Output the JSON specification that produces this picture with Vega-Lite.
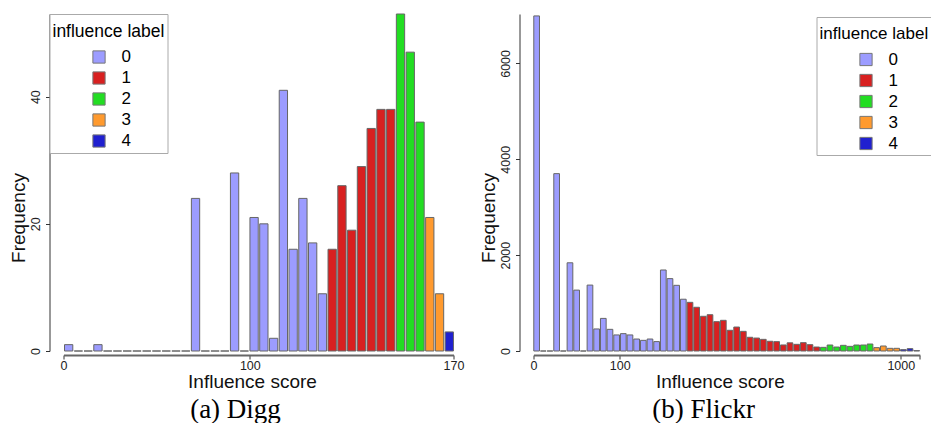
{
  "$schema": "https://vega.github.io/schema/vega-lite/v6.json",
  "padding": {"left": 9.5, "top": 13, "right": 0, "bottom": 0},
  "bounds": "flush",
  "spacing": 80,
  "background": "white",
  "config": {
    "view": {"stroke": null},
    "axis": {
      "grid": false,
      "labelFont": "Liberation Sans",
      "titleFont": "Liberation Sans",
      "labelFontSize": 12.5,
      "titleFontSize": 19,
      "titleFontWeight": "normal",
      "labelColor": "#222",
      "titleColor": "#111",
      "tickColor": "#333",
      "domainColor": "#333"
    },
    "legend": {
      "orient": "none",
      "titleFont": "Liberation Sans",
      "titleFontSize": 17.5,
      "titleFontWeight": "normal",
      "titleColor": "#000",
      "titleBaseline": "line-top",
      "titleLineHeight": 29,
      "labelFont": "Liberation Sans",
      "labelFontSize": 17,
      "labelColor": "#000",
      "symbolType": "square",
      "symbolSize": 150,
      "symbolStrokeColor": "#777",
      "symbolStrokeWidth": 1,
      "symbolOffset": 38,
      "labelOffset": 14,
      "rowPadding": 3,
      "padding": 3,
      "titlePadding": 14,
      "strokeColor": "#aaa",
      "fillColor": "white"
    },
    "title": {"font": "Liberation Serif", "fontSize": 27, "fontWeight": "normal", "color": "#000", "orient": "bottom", "anchor": "middle"}
  },
  "datasets": {
    "digg": [
      {"i": 0, "f": 1, "l": "0"}, {"i": 1, "f": 0, "l": "0"}, {"i": 2, "f": 0, "l": "0"}, {"i": 3, "f": 1, "l": "0"},
      {"i": 4, "f": 0, "l": "0"}, {"i": 5, "f": 0, "l": "0"}, {"i": 6, "f": 0, "l": "0"}, {"i": 7, "f": 0, "l": "0"},
      {"i": 8, "f": 0, "l": "0"}, {"i": 9, "f": 0, "l": "0"}, {"i": 10, "f": 0, "l": "0"}, {"i": 11, "f": 0, "l": "0"},
      {"i": 12, "f": 0, "l": "0"}, {"i": 13, "f": 24, "l": "0"}, {"i": 14, "f": 0, "l": "0"}, {"i": 15, "f": 0, "l": "0"},
      {"i": 16, "f": 0, "l": "0"}, {"i": 17, "f": 28, "l": "0"}, {"i": 18, "f": 0, "l": "0"}, {"i": 19, "f": 21, "l": "0"},
      {"i": 20, "f": 20, "l": "0"}, {"i": 21, "f": 2, "l": "0"}, {"i": 22, "f": 41, "l": "0"}, {"i": 23, "f": 16, "l": "0"},
      {"i": 24, "f": 24, "l": "0"}, {"i": 25, "f": 17, "l": "0"}, {"i": 26, "f": 9, "l": "0"}, {"i": 27, "f": 16, "l": "1"},
      {"i": 28, "f": 26, "l": "1"}, {"i": 29, "f": 19, "l": "1"}, {"i": 30, "f": 29, "l": "1"}, {"i": 31, "f": 35, "l": "1"},
      {"i": 32, "f": 38, "l": "1"}, {"i": 33, "f": 38, "l": "1"}, {"i": 34, "f": 53, "l": "2"}, {"i": 35, "f": 47, "l": "2"},
      {"i": 36, "f": 36, "l": "2"}, {"i": 37, "f": 21, "l": "3"}, {"i": 38, "f": 9, "l": "3"}, {"i": 39, "f": 3, "l": "4"}
    ],
    "flickr": [
      {"i": 0, "f": 6990, "l": "0"}, {"i": 1, "f": 0, "l": "0"}, {"i": 2, "f": 0, "l": "0"}, {"i": 3, "f": 3700, "l": "0"},
      {"i": 4, "f": 0, "l": "0"}, {"i": 5, "f": 1840, "l": "0"}, {"i": 6, "f": 1270, "l": "0"}, {"i": 7, "f": 0, "l": "0"},
      {"i": 8, "f": 1375, "l": "0"}, {"i": 9, "f": 460, "l": "0"}, {"i": 10, "f": 680, "l": "0"}, {"i": 11, "f": 452, "l": "0"},
      {"i": 12, "f": 335, "l": "0"}, {"i": 13, "f": 362, "l": "0"}, {"i": 14, "f": 335, "l": "0"}, {"i": 15, "f": 250, "l": "0"},
      {"i": 16, "f": 222, "l": "0"}, {"i": 17, "f": 250, "l": "0"}, {"i": 18, "f": 196, "l": "0"}, {"i": 19, "f": 1690, "l": "0"},
      {"i": 20, "f": 1510, "l": "0"}, {"i": 21, "f": 1370, "l": "0"}, {"i": 22, "f": 1080, "l": "0"}, {"i": 23, "f": 1015, "l": "1"},
      {"i": 24, "f": 912, "l": "1"}, {"i": 25, "f": 724, "l": "1"}, {"i": 26, "f": 757, "l": "1"}, {"i": 27, "f": 612, "l": "1"},
      {"i": 28, "f": 640, "l": "1"}, {"i": 29, "f": 432, "l": "1"}, {"i": 30, "f": 500, "l": "1"}, {"i": 31, "f": 410, "l": "1"},
      {"i": 32, "f": 286, "l": "1"}, {"i": 33, "f": 270, "l": "1"}, {"i": 34, "f": 243, "l": "1"}, {"i": 35, "f": 203, "l": "1"},
      {"i": 36, "f": 195, "l": "1"}, {"i": 37, "f": 126, "l": "1"}, {"i": 38, "f": 170, "l": "1"}, {"i": 39, "f": 139, "l": "1"},
      {"i": 40, "f": 174, "l": "1"}, {"i": 41, "f": 132, "l": "1"}, {"i": 42, "f": 83, "l": "1"}, {"i": 43, "f": 76, "l": "2"},
      {"i": 44, "f": 125, "l": "2"}, {"i": 45, "f": 83, "l": "2"}, {"i": 46, "f": 118, "l": "2"}, {"i": 47, "f": 97, "l": "2"},
      {"i": 48, "f": 125, "l": "2"}, {"i": 49, "f": 125, "l": "2"}, {"i": 50, "f": 146, "l": "2"}, {"i": 51, "f": 70, "l": "3"},
      {"i": 52, "f": 104, "l": "3"}, {"i": 53, "f": 56, "l": "3"}, {"i": 54, "f": 56, "l": "3"}, {"i": 55, "f": 28, "l": "4"},
      {"i": 56, "f": 49, "l": "4"}, {"i": 57, "f": 8, "l": "4"}
    ]
  },
  "resolve": {"scale": {"color": "independent", "x": "independent", "y": "independent"}, "legend": {"color": "independent"}},
  "hconcat": [
    {
      "width": 390,
      "height": 337,
      "data": {"name": "digg"},
      "title": {"text": "(a) Digg", "dx": -23, "offset": 5},
      "mark": {"type": "bar", "width": 8.3, "stroke": "#666666", "strokeWidth": 1},
      "encoding": {
        "x": {
          "field": "i", "type": "quantitative",
          "scale": {"domain": [-0.528, 39.43], "nice": false, "zero": false, "padding": 0},
          "axis": {
            "title": "Influence score", "titleX": 188.5, "titlePadding": 1,
            "values": [-0.528, 18.56, 39.43],
            "labelExpr": "datum.value < 0 ? '0' : datum.value < 30 ? '100' : '170'",
            "offset": 4, "domainWidth": 2, "domainColor": "#666", "tickSize": 4, "labelPadding": 0,
            "labelFlush": false, "labelOverlap": false
          }
        },
        "y": {
          "field": "f", "type": "quantitative",
          "scale": {"domain": [0, 53], "nice": false},
          "axis": {
            "title": "Frequency", "titleY": 203.5, "titlePadding": 1, "format": "d",
            "values": [0, 20, 40], "offset": 14, "tickSize": 4,
            "labelAngle": -90, "labelAlign": "center", "labelBaseline": "bottom", "labelPadding": 3
          }
        },
        "color": {
          "field": "l", "type": "nominal",
          "scale": {"domain": ["0", "1", "2", "3", "4"], "range": ["#9c9cff", "#d82020", "#22dd22", "#ff9a2e", "#2020d0"]},
          "legend": {"title": "influence label", "legendX": -14, "legendY": 0}
        }
      }
    },
    {
      "width": 386.3,
      "height": 337,
      "data": {"name": "flickr"},
      "title": {"text": "(b) Flickr", "dx": -23, "offset": 5},
      "mark": {"type": "bar", "width": 5.7, "stroke": "#666666", "strokeWidth": 1},
      "encoding": {
        "x": {
          "field": "i", "type": "quantitative",
          "scale": {"domain": [-0.47, 57.47], "nice": false, "zero": false, "padding": 0},
          "axis": {
            "title": "Influence score", "titleX": 186.3, "titlePadding": 1,
            "values": [-0.47, 12.47, 54.62, 57.47],
            "labelExpr": "datum.value < 0 ? '0' : datum.value < 20 ? '100' : datum.value < 56 ? '1000' : ''",
            "offset": 4, "domainWidth": 2, "domainColor": "#666", "tickSize": 4, "labelPadding": 0,
            "labelFlush": false, "labelOverlap": false
          }
        },
        "y": {
          "field": "f", "type": "quantitative",
          "scale": {"domain": [0, 7030], "nice": false},
          "axis": {
            "title": "Frequency", "titleY": 203.5, "titlePadding": 1, "format": "d",
            "values": [0, 2000, 4000, 6000], "offset": 14, "tickSize": 4,
            "labelAngle": -90, "labelAlign": "center", "labelBaseline": "bottom", "labelPadding": 3
          }
        },
        "color": {
          "field": "l", "type": "nominal",
          "scale": {"domain": ["0", "1", "2", "3", "4"], "range": ["#9c9cff", "#d82020", "#22dd22", "#ff9a2e", "#2020d0"]},
          "legend": {"title": "influence label", "titleFontSize": 17, "legendX": 283, "legendY": 3}
        }
      }
    }
  ]
}
